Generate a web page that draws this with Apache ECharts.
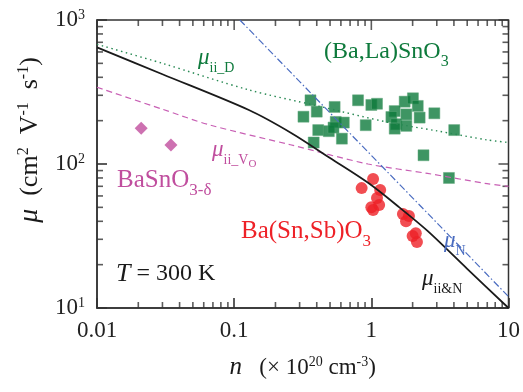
<!DOCTYPE html>
<html>
<head>
<meta charset="utf-8">
<script src="https://cdn.jsdelivr.net/npm/echarts@6/dist/echarts.min.js"></script>
<style>
  html, body { margin: 0; padding: 0; background: #fff; }
  #chart { width: 523px; height: 392px; }
</style>
</head>
<body>
<div id="chart"></div>
<script>
// tick labels
const xTicks = [0.01, 0.1, 1, 10];
const xTickLabels = ['0.01', '0.1', '1', '10'];
const yTicks = [10, 100, 1000];
const yTickExp = ['1', '2', '3'];
const minorSteps = [2, 3, 4, 5, 6, 7, 8, 9];

// (Ba,La)SnO3 — green squares
const balaN = [0.36, 0.32, 0.40, 0.54, 0.80, 1.00, 1.10, 1.75, 2.01, 2.18, 1.48, 1.40, 1.80, 2.25, 2.88,
  1.52, 1.80, 1.48, 0.55, 0.63, 0.41, 0.49, 0.53, 0.91, 0.61, 0.38, 4.02, 2.40, 3.68];
const balaMu = [277, 213, 231, 249, 277, 257, 262, 271, 286, 253, 233, 212, 221, 210, 225,
  189, 184, 176, 196, 194, 172, 169, 179, 186, 150, 141, 172, 115, 80];

// Ba(Sn,Sb)O3 — red circles
const sbN = [1.03, 0.85, 1.16, 1.10, 1.14, 1.03, 1.00, 1.70, 1.88, 1.79, 2.11, 2.15, 2.00];
const sbMu = [78.7, 68, 66, 58, 52, 48, 50, 45, 43.5, 40, 33, 28.7, 31.6];

// BaSnO3-δ — purple diamonds
const bsoN = [0.021, 0.0346];
const bsoMu = [177, 135.5];

// model curves
const iiNN = [0.01, 0.03, 0.128, 0.264, 0.5, 0.947, 1.6, 2.57, 5, 10];
const iiNMu = [646, 420, 237, 163, 110, 74, 50, 34.3, 18.7, 10];
const iiDN = [0.01, 0.03, 0.128, 0.4, 1.32, 3, 6.98, 10];
const iiDMu = [678, 500, 327, 254, 195, 170, 147, 141];
const iiVN = [0.01, 0.03, 0.066, 0.257, 0.947, 2.57, 6.98, 10];
const iiVMu = [341, 240, 187, 136, 100, 86, 73, 70];
const nN = [0.11, 10];
const nMu = [1000, 12];

const zip = (a, b) => a.map((v, i) => [v, b[i]]);

const SERIF = '"Liberation Serif", "DejaVu Serif", serif';
const AXIS_COLOR = '#333';

const chart = echarts.init(document.getElementById('chart'));

function xLabel(v) {
  const i = xTicks.findIndex(t => Math.abs(Math.log10(t) - Math.log10(v)) < 0.01);
  return i < 0 ? '' : xTickLabels[i];
}
function yLabel(v) {
  const i = yTicks.findIndex(t => Math.abs(Math.log10(t) - Math.log10(v)) < 0.01);
  return i < 0 ? '' : '{b|10}{s|' + yTickExp[i] + '}';
}

// rich styles shared by all the text pieces
function richSet(size, color) {
  return {
    r: { fontFamily: SERIF, fontSize: size, color: color, fontWeight: 'normal' },
    m: { fontFamily: SERIF, fontSize: size + 2, fontStyle: 'italic', color: color, fontWeight: 'normal' },
    s: { fontFamily: SERIF, fontSize: Math.round(size * 0.6), color: color, verticalAlign: 'top', fontWeight: 'normal' },
    d: { fontFamily: SERIF, fontSize: Math.round(size * 0.68), color: color, verticalAlign: 'bottom', padding: [0, 0, -6, 0], fontWeight: 'normal' },
    dd: { fontFamily: SERIF, fontSize: Math.round(size * 0.5), color: color, verticalAlign: 'bottom', padding: [0, 0, -9, 0], fontWeight: 'normal' }
  };
}
function note(x, y, text, color, size) {
  return {
    text: text, left: x, top: y, padding: 0, itemGap: 0,
    textStyle: { fontFamily: SERIF, fontSize: size, color: color, fontWeight: 'normal', rich: richSet(size, color) }
  };
}

// tick marks inside the frame, as thin rect symbols on the edges
const xMinor = [];
xTicks.slice(0, -1).forEach(d => minorSteps.forEach(k => xMinor.push(d * k)));
const yMinor = [];
yTicks.slice(0, -1).forEach(d => minorSteps.forEach(k => yMinor.push(d * k)));

function tickSeries(data, size, offset) {
  return {
    type: 'scatter', data: data, symbol: 'rect', symbolSize: size, symbolOffset: offset,
    itemStyle: { color: AXIS_COLOR }, clip: false
  };
}

const option = {
  animation: false,
  title: [
    note(324, 40, '{r|(Ba,La)SnO}{d|3}', '#0e7a3c', 24),
    note(198, 46, '{m|μ}{d|ii_D}', '#0e7a3c', 21),
    note(212, 138, '{m|μ}{d|ii_V}{dd|O}', '#c04e9e', 21),
    note(117, 168, '{r|BaSnO}{d|3-δ}', '#c04e9e', 25),
    note(241, 219, '{r|Ba(Sn,Sb)O}{d|3}', '#ee2127', 25),
    note(444, 229, '{m|μ}{d|N}', '#4a6cc0', 21),
    note(422, 267, '{m|μ}{d|ii&N}', '#1a1a1a', 21),
    note(116, 261, '{m|T}{r| = 300 K}', '#1a1a1a', 24)
  ],
  grid: { left: 97, right: 12, top: 20, bottom: 84, show: true, borderColor: AXIS_COLOR, borderWidth: 1.5 },
  xAxis: {
    type: 'log', min: 0.01, max: 10,
    axisLine: { lineStyle: { color: AXIS_COLOR, width: 1.5 } },
    axisTick: { inside: true, length: 10, lineStyle: { color: AXIS_COLOR, width: 1.6 } },
    splitLine: { show: false },
    axisLabel: { formatter: xLabel, fontFamily: SERIF, fontSize: 23, color: '#222', margin: 11 },
    name: '{m|n}{r|   (× 10}{s|20}{r| cm}{s|-3}{r|)}',
    nameLocation: 'middle', nameGap: 47,
    nameTextStyle: { fontFamily: SERIF, fontSize: 23, color: '#1a1a1a', rich: richSet(23, '#1a1a1a') }
  },
  yAxis: {
    type: 'log', min: 10, max: 1000,
    axisLine: { lineStyle: { color: AXIS_COLOR, width: 1.5 } },
    axisTick: { inside: true, length: 10, lineStyle: { color: AXIS_COLOR, width: 1.6 } },
    splitLine: { show: false },
    axisLabel: {
      formatter: yLabel, margin: 12, color: '#222',
      rich: {
        b: { fontFamily: SERIF, fontSize: 23, color: '#222' },
        s: { fontFamily: SERIF, fontSize: 14, color: '#222', verticalAlign: 'top', padding: [0, 0, 8, 0] }
      }
    },
    name: '{m|μ}{r|  (cm}{s|2}{r|  V}{s|-1}{r|  s}{s|-1}{r|)}',
    nameLocation: 'middle', nameRotate: 90, nameGap: 51,
    nameTextStyle: { fontFamily: SERIF, fontSize: 26, color: '#1a1a1a', padding: [0, 0, 0, 48], rich: richSet(26, '#1a1a1a') }
  },
  series: [
    tickSeries(xTicks.map(v => [v, 1000]), [1.6, 10], [0, 5]),
    tickSeries(yTicks.map(v => [10, v]), [10, 1.6], [-5, 0]),
    tickSeries(xMinor.map(v => [v, 10]), [1.6, 6], [0, -3]),
    tickSeries(xMinor.map(v => [v, 1000]), [1.6, 6], [0, 3]),
    tickSeries(yMinor.map(v => [0.01, v]), [6, 1.6], [3, 0]),
    tickSeries(yMinor.map(v => [10, v]), [6, 1.6], [-3, 0]),
    {
      name: '(Ba,La)SnO3', type: 'scatter', data: zip(balaN, balaMu),
      symbol: 'rect', symbolSize: 11,
      itemStyle: { color: '#0e7a3c', borderColor: '#5ea67a', borderWidth: 0.6 }, z: 3
    },
    {
      name: 'Ba(Sn,Sb)O3', type: 'scatter', data: zip(sbN, sbMu),
      symbol: 'circle', symbolSize: 12,
      itemStyle: { color: '#ee2127' }, z: 3
    },
    {
      name: 'BaSnO3-δ', type: 'scatter', data: zip(bsoN, bsoMu),
      symbol: 'diamond', symbolSize: [13, 13],
      itemStyle: { color: '#c04e9e' }, z: 3
    },
    {
      name: 'mu_ii_D', type: 'line', data: zip(iiDN, iiDMu), smooth: 0.3, symbol: 'none',
      lineStyle: { color: '#2a8a55', width: 1.4, type: [1.5, 3.5] }, z: 4
    },
    {
      name: 'mu_ii_Vo', type: 'line', data: zip(iiVN, iiVMu), smooth: 0.3, symbol: 'none',
      lineStyle: { color: '#c85fb4', width: 1.2, type: [6, 4] }, z: 4
    },
    {
      name: 'mu_N', type: 'line', data: zip(nN, nMu), symbol: 'none',
      lineStyle: { color: '#4a6cc0', width: 1.2, type: [7, 2.5, 1.5, 2.5] }, z: 4
    },
    {
      name: 'mu_ii&N', type: 'line', data: zip(iiNN, iiNMu), smooth: 0.3, symbol: 'none',
      lineStyle: { color: '#1a1a1a', width: 1.8 }, z: 5
    }
  ]
};

chart.setOption(option);
</script>
</body>
</html>
